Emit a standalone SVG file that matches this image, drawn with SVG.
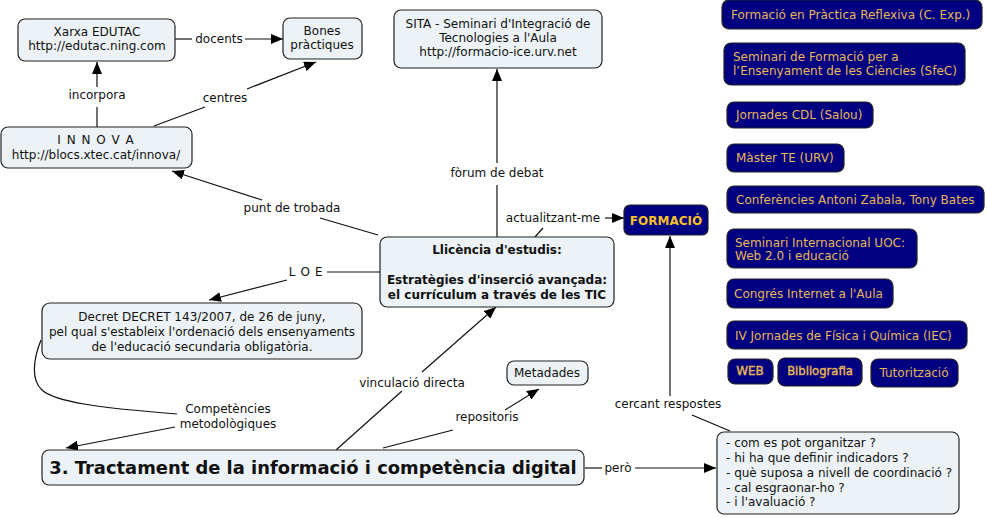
<svg xmlns="http://www.w3.org/2000/svg" width="987" height="517" viewBox="0 0 987 517">
<style>
.n{fill:#ecf2f5;stroke:#222;stroke-width:1.2}
.d{fill:#000080;stroke:#222;stroke-width:1.2}
text{font-family:"DejaVu Sans",Verdana,sans-serif;font-size:12px;fill:#111}
.c{text-anchor:middle}
.g{fill:#e8b658}
.b{font-weight:bold}
.s{stroke:#e8b658;stroke-width:0.4}
.l{fill:none;stroke:#111;stroke-width:1.2}
</style>
<defs>
<marker id="a" viewBox="0 0 12 10" refX="12" refY="5" markerWidth="12" markerHeight="10" markerUnits="userSpaceOnUse" orient="auto">
<path d="M0,0 L12,5 L0,10 Z" fill="#000"/>
</marker>
</defs>
<rect width="987" height="517" fill="#fff"/>
<g id="connectors">
<line class="l" x1="175" y1="39" x2="192" y2="39"/>
<text class="c" x="219" y="43">docents</text>
<line class="l" x1="245" y1="39" x2="283" y2="39" marker-end="url(#a)"/>
<line class="l" x1="97" y1="127" x2="97" y2="107"/>
<text class="c" x="97" y="99">incorpora</text>
<line class="l" x1="97" y1="87" x2="97" y2="62" marker-end="url(#a)"/>
<line class="l" x1="154" y1="126" x2="205" y2="107"/>
<text class="c" x="225" y="102">centres</text>
<line class="l" x1="247" y1="89" x2="316" y2="62" marker-end="url(#a)"/>
<line class="l" x1="378" y1="235" x2="320" y2="218"/>
<text class="c" x="292" y="212">punt de trobada</text>
<line class="l" x1="262" y1="200" x2="172" y2="171" marker-end="url(#a)"/>
<line class="l" x1="497" y1="237" x2="497" y2="185"/>
<text class="c" x="497" y="177">fòrum de debat</text>
<line class="l" x1="497" y1="163" x2="497" y2="69" marker-end="url(#a)"/>
<line class="l" x1="535" y1="237" x2="543" y2="228"/>
<text class="c" x="553" y="222">actualitzant-me</text>
<line class="l" x1="605" y1="218" x2="624" y2="218" marker-end="url(#a)"/>
<line class="l" x1="380" y1="272" x2="327" y2="272"/>
<text class="c" x="306" y="276" letter-spacing="0.6">L O E</text>
<line class="l" x1="287" y1="280" x2="209" y2="300" marker-end="url(#a)"/>
<path class="l" d="M41,340 C33,360 31,380 42,390 C55,402 100,408 177,414"/>
<text class="c" x="228" y="413">Competències</text>
<text class="c" x="228" y="428">metodològiques</text>
<line class="l" x1="175" y1="427" x2="66" y2="448" marker-end="url(#a)"/>
<line class="l" x1="336" y1="450" x2="402" y2="391"/>
<text class="c" x="412" y="387">vinculació directa</text>
<line class="l" x1="422" y1="372" x2="496" y2="307" marker-end="url(#a)"/>
<line class="l" x1="383" y1="448" x2="453" y2="430"/>
<text class="c" x="487" y="421">repositoris</text>
<line class="l" x1="505" y1="410" x2="539" y2="389" marker-end="url(#a)"/>
<line class="l" x1="585" y1="468" x2="602" y2="468"/>
<text class="c" x="618" y="472">però</text>
<line class="l" x1="635" y1="468" x2="716" y2="468" marker-end="url(#a)"/>
<line class="l" x1="730" y1="431" x2="692" y2="415"/>
<text class="c" x="668" y="408">cercant respostes</text>
<line class="l" x1="670" y1="396" x2="670" y2="236" marker-end="url(#a)"/>
</g>
<g id="xarxa"><rect class="n" x="18" y="19" width="157" height="42" rx="7"/><text class="c" x="97" y="36">Xarxa EDUTAC</text><text class="c" x="97" y="50">http://edutac.ning.com</text></g>
<g id="bones"><rect class="n" x="283" y="18" width="79" height="41" rx="7"/><text class="c" x="322" y="35">Bones</text><text class="c" x="322" y="49">pràctiques</text></g>
<g id="innova"><rect class="n" x="1" y="127" width="191" height="41" rx="7"/><text class="c" x="96" y="144" letter-spacing="1">I N N O V A</text><text class="c" x="96" y="159">http://blocs.xtec.cat/innova/</text></g>
<g id="sita"><rect class="n" x="394" y="10" width="208" height="58" rx="7"/><text class="c" x="498" y="28">SITA - Seminari d'Integració de</text><text class="c" x="498" y="42">Tecnologies a l'Aula</text><text class="c" x="498" y="56">http://formacio-ice.urv.net</text></g>
<g id="llicencia"><rect class="n" x="380" y="237" width="234" height="70" rx="7"/><text class="c b" x="497" y="254">Llicència d'estudis:</text><text class="c b" x="497" y="284">Estratègies d'inserció avançada:</text><text class="c b" x="497" y="299">el currículum a través de les TIC</text></g>
<g id="formacio"><rect class="d" x="624" y="205" width="84" height="30" rx="6"/><text class="c b" x="666" y="225" style="fill:#f5bf2a">FORMACIÓ</text></g>
<g id="decret"><rect class="n" x="42" y="303" width="320" height="56" rx="8"/><text class="c" x="202" y="321">Decret DECRET 143/2007, de 26 de juny,</text><text class="c" x="202" y="336">pel qual s'estableix l'ordenació dels ensenyaments</text><text class="c" x="202" y="351">de l'educació secundaria obligatòria.</text></g>
<g id="tractament"><rect class="n" x="42" y="450" width="542" height="35" rx="7"/><text class="c b" x="313" y="474" style="font-size:17.9px">3. Tractament de la informació i competència digital</text></g>
<g id="metadades"><rect class="n" x="507" y="361" width="81" height="24" rx="7"/><text class="c" x="547" y="377">Metadades</text></g>
<g id="preguntes"><rect class="n" x="717" y="432" width="242" height="82" rx="7"/><text x="726" y="447">- com es pot organitzar ?</text><text x="726" y="462">- hi ha que definir indicadors ?</text><text x="726" y="477">- què suposa a nivell de coordinació ?</text><text x="726" y="492">- cal esgraonar-ho ?</text><text x="726" y="506">- i l'avaluació ?</text></g>
<g id="f1"><rect class="d" x="722" y="0" width="260" height="29" rx="7"/><text class="g" x="731" y="19">Formació en Pràctica Reflexiva (C. Exp.)</text></g>
<g id="f2"><rect class="d" x="724" y="43" width="241" height="42" rx="7"/><text class="g" x="733" y="61">Seminari de Formació per a</text><text class="g" x="733" y="75">l’Ensenyament de les Ciències (SfeC)</text></g>
<g id="f3"><rect class="d" x="727" y="102" width="146" height="26" rx="7"/><text class="g" x="736" y="119">Jornades CDL (Salou)</text></g>
<g id="f4"><rect class="d" x="727" y="144" width="117" height="28" rx="7"/><text class="g" x="736" y="162">Màster TE (URV)</text></g>
<g id="f5"><rect class="d" x="727" y="186" width="257" height="27" rx="7"/><text class="g" x="736" y="204">Conferències Antoni Zabala, Tony Bates</text></g>
<g id="f6"><rect class="d" x="727" y="229" width="190" height="39" rx="7"/><text class="g" x="735" y="247">Seminari Internacional UOC:</text><text class="g" x="735" y="260">Web 2.0 i educació</text></g>
<g id="f7"><rect class="d" x="727" y="279" width="166" height="29" rx="7"/><text class="g" x="734" y="298">Congrés Internet a l'Aula</text></g>
<g id="f8"><rect class="d" x="727" y="321" width="240" height="28" rx="7"/><text class="g" x="735" y="340">IV Jornades de Física i Química (IEC)</text></g>
<g id="f9"><rect class="d" x="728" y="359" width="45" height="25" rx="7"/><text class="g s c" x="750" y="375">WEB</text></g>
<g id="f10"><rect class="d" x="778" y="358" width="84" height="28" rx="7"/><text class="g s c" x="820" y="375" style="font-size:11.6px">Bibliografia</text></g>
<g id="f11"><rect class="d" x="871" y="359" width="87" height="28" rx="7"/><text class="g c" x="914" y="377">Tutorització</text></g>
</svg>
